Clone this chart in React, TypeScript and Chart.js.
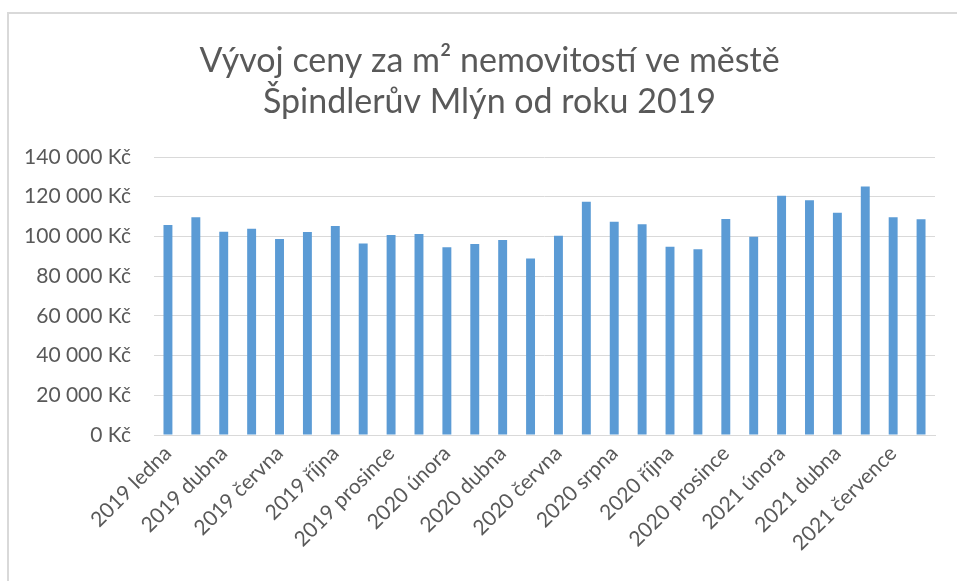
import React, { useEffect, useRef } from "react";
import { Chart, registerables } from "chart.js";

Chart.register(...registerables);

const titleLines = ["Vývoj ceny za m² nemovitostí ve městě", "Špindlerův Mlýn od roku 2019"];

const categories = [
  "2019 ledna", "2019 února", "2019 dubna", "2019 května", "2019 června", "2019 srpna",
  "2019 října", "2019 listopadu", "2019 prosince", "2020 ledna", "2020 února", "2020 března",
  "2020 dubna", "2020 května", "2020 června", "2020 července", "2020 srpna", "2020 září",
  "2020 října", "2020 listopadu", "2020 prosince", "2021 ledna", "2021 února", "2021 března",
  "2021 dubna", "2021 června", "2021 července", "2021 srpna",
];

const prices = [
  105700, 109600, 102400, 103900, 98700, 102200, 105200, 96500, 100700, 101200,
  94600, 96200, 98200, 88900, 100400, 117500, 107400, 106100, 94800, 93600,
  108800, 99800, 120500, 118200, 111900, 125100, 109600, 108600,
];

const yMax = 140000;
const yStep = 20000;

const FONT = "Lato, 'Open Sans', sans-serif";
const TEXT = "#595959";
const GRID = "#d9d9d9";

function fmt(v: number): string {
  const s = Math.round(v).toString().replace(/\B(?=(\d{3})+(?!\d))/g, " ");
  return s + " Kč";
}

const titlePlugin = {
  id: "frameTitle",
  afterDraw(chart: any) {
    const ctx = chart.ctx;
    ctx.save();
    ctx.fillStyle = TEXT;
    ctx.font = "34px " + FONT;
    ctx.textAlign = "center";
    ctx.textBaseline = "middle";
    const cx = 489.5;
    titleLines.forEach((line, i) => {
      ctx.fillText(line, cx, 61 + i * 41.5);
    });
    ctx.restore();
  },
};

export default function App() {
  const ref = useRef<HTMLCanvasElement | null>(null);
  useEffect(() => {
    if (!ref.current) return;
    const chart = new Chart(ref.current, {
      type: "bar",
      data: {
        labels: categories,
        datasets: [
          {
            data: prices,
            backgroundColor: "#5b9bd5",
            borderWidth: 0,
            categoryPercentage: 1,
            barPercentage: 0.32,
          },
        ],
      },
      plugins: [titlePlugin],
      options: {
        animation: false,
        responsive: false,
        layout: { padding: { left: 22, right: 22, top: 157, bottom: 0 } },
        plugins: {
          legend: { display: false },
          tooltip: { enabled: false },
          title: { display: false },
        },
        scales: {
          x: {
            grid: { display: false, drawTicks: false },
            border: { display: true, color: GRID, width: 1 },
            ticks: {
              autoSkip: false,
              minRotation: 45,
              maxRotation: 45,
              padding: 6,
              color: TEXT,
              font: { family: FONT, size: 21 },
              callback: (_v: any, i: number) => (i % 2 === 0 ? categories[i] : ""),
            },
            afterFit: (s: any) => {
              s.height = 146;
            },
          },
          y: {
            min: 0,
            max: yMax,
            grid: { color: GRID, lineWidth: 1, drawTicks: false },
            border: { display: false },
            ticks: {
              stepSize: yStep,
              padding: 23,
              color: TEXT,
              font: { family: FONT, size: 21 },
              callback: (v: any) => fmt(Number(v)),
            },
            afterFit: (s: any) => {
              s.width = 132;
            },
          },
        },
      },
    });
    return () => chart.destroy();
  }, []);
  return (
    <div style={{ position: "fixed", left: 0, top: 0, width: 957, height: 581, overflow: "hidden", background: "#fff" }}>
      <div
        style={{
          position: "absolute",
          left: 7,
          top: 12,
          width: 1000,
          height: 700,
          borderLeft: "2px solid #d9d9d9",
          borderTop: "2px solid #d9d9d9",
        }}
      />
      <canvas ref={ref} width={957} height={581} style={{ position: "absolute", left: 0, top: 0 }} />
    </div>
  );
}
